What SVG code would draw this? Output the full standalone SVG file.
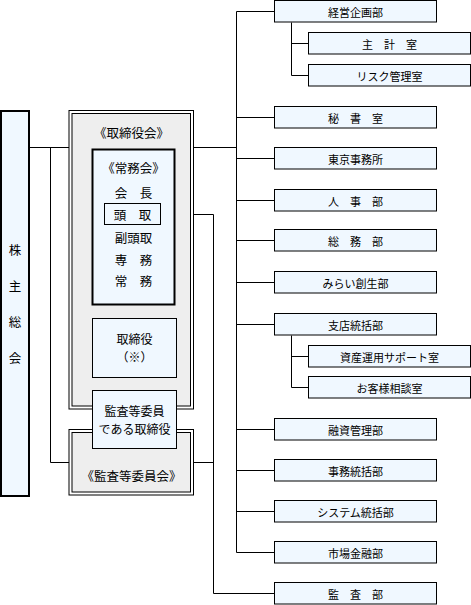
<svg xmlns="http://www.w3.org/2000/svg" width="471" height="605" viewBox="0 0 471 605">
<style>
text{font-family:"Noto Sans CJK JP","Noto Sans",sans-serif;fill:#000;text-anchor:middle;dominant-baseline:central}
.r{font-size:11px}
.l{font-size:12.5px}
.m{font-size:12px}
.box{fill:#f0f8ff;stroke:#000;stroke-width:1}
.thick{fill:#f0f8ff;stroke:#000;stroke-width:2}
.gray{fill:#eeeeee;stroke:#000;stroke-width:1}
.dbl{fill:#fff;stroke:#000;stroke-width:1}
.c{fill:none;stroke:#000;stroke-width:1}
</style>
<rect x="0" y="0" width="471" height="605" fill="#fff"/>
<g id="connectors" class="c">
<path d="M30 147.5H69"/>
<path d="M50.5 147.5V462.5H69"/>
<path d="M193.5 147.5H236.5"/>
<path d="M236.5 11.5V552.5"/>
<path d="M236.5 11.5H274.5M236.5 117.5H274.5M236.5 158.5H274.5M236.5 200.5H274.5M236.5 240.5H274.5M236.5 282.5H274.5M236.5 324.5H274.5M236.5 429.5H274.5M236.5 470.5H274.5M236.5 511.5H274.5M236.5 552.5H274.5"/>
<path d="M291.5 22.5V75.5M291.5 43.5H308.5M291.5 75.5H308.5"/>
<path d="M291.5 335.5V387.5M291.5 356.5H308.5M291.5 387.5H308.5"/>
<path d="M160.5 214.5H213.5V593.5H274.5"/>
<path d="M193.5 462.5H213.5"/>
<path d="M134.5 305V318.5"/>
</g>
<g id="kabunushi">
<rect class="thick" x="1" y="111" width="28" height="385"/>
<text class="l" x="15" y="249">株</text>
<text class="l" x="15" y="285">主</text>
<text class="l" x="15" y="321.5">総</text>
<text class="l" x="15" y="357.5">会</text>
</g>
<g id="torishimariyakukai">
<rect class="dbl" x="69" y="110.5" width="124.5" height="298.5"/>
<rect class="gray" x="72" y="113.5" width="118.5" height="292.5"/>
<text class="l" x="131.5" y="132">《取締役会》</text>
</g>
<g id="jomukai">
<rect class="thick" x="92.5" y="149.5" width="82" height="155"/>
<text class="l" x="133.5" y="167">《常務会》</text>
<text class="l" x="133.5" y="192">会　長</text>
<text class="l" x="133.5" y="237">副頭取</text>
<text class="l" x="133.5" y="259">専　務</text>
<text class="l" x="133.5" y="280">常　務</text>
</g>
<g id="todori">
<rect class="box" x="104.5" y="203.5" width="56" height="21"/>
<text class="l" x="132.5" y="214">頭　取</text>
</g>
<g id="torishimariyaku">
<rect class="box" x="92.5" y="318.5" width="84" height="59"/>
<text class="m" x="134.5" y="338">取締役</text>
<text class="m" x="134.5" y="356">（※）</text>
</g>
<g id="kansatoiinkai">
<rect class="dbl" x="69" y="429.5" width="124.5" height="65.5"/>
<rect class="gray" x="72" y="432.5" width="118.5" height="59.5"/>
<text class="l" x="131.5" y="475">《監査等委員会》</text>
</g>
<g id="kansatoiin">
<rect class="box" x="92.5" y="390.5" width="84" height="58"/>
<text class="m" x="134.5" y="410">監査等委員</text>
<text class="m" x="134.5" y="428">である取締役</text>
</g>
<g id="keiei"><rect class="box" x="274.5" y="0.5" width="162" height="21.5"/><text class="r" x="355.5" y="11.5">経営企画部</text></g>
<g id="shukei"><rect class="box" x="308.5" y="32.5" width="162" height="21.5"/><text class="r" x="389.5" y="43.5">主　計　室</text></g>
<g id="risk"><rect class="box" x="308.5" y="64.5" width="162" height="21.5"/><text class="r" x="389.5" y="75.5">リスク管理室</text></g>
<g id="hisho"><rect class="box" x="274.5" y="106.5" width="162" height="21.5"/><text class="r" x="355.5" y="117.5">秘　書　室</text></g>
<g id="tokyo"><rect class="box" x="274.5" y="147.5" width="162" height="21.5"/><text class="r" x="355.5" y="158.5">東京事務所</text></g>
<g id="jinji"><rect class="box" x="274.5" y="189.5" width="162" height="21.5"/><text class="r" x="355.5" y="200.5">人　事　部</text></g>
<g id="somu"><rect class="box" x="274.5" y="229.5" width="162" height="21.5"/><text class="r" x="355.5" y="240.5">総　務　部</text></g>
<g id="mirai"><rect class="box" x="274.5" y="271.5" width="162" height="21.5"/><text class="r" x="355.5" y="282.5">みらい創生部</text></g>
<g id="shiten"><rect class="box" x="274.5" y="313.5" width="162" height="21.5"/><text class="r" x="355.5" y="324.5">支店統括部</text></g>
<g id="shisan"><rect class="box" x="308.5" y="345.5" width="162" height="21.5"/><text class="r" x="389.5" y="356.5">資産運用サポート室</text></g>
<g id="okyaku"><rect class="box" x="308.5" y="376.5" width="162" height="21.5"/><text class="r" x="389.5" y="387.5">お客様相談室</text></g>
<g id="yushi"><rect class="box" x="274.5" y="418.5" width="162" height="21.5"/><text class="r" x="355.5" y="429.5">融資管理部</text></g>
<g id="jimu"><rect class="box" x="274.5" y="459.5" width="162" height="21.5"/><text class="r" x="355.5" y="470.5">事務統括部</text></g>
<g id="system"><rect class="box" x="274.5" y="500.5" width="162" height="21.5"/><text class="r" x="355.5" y="511.5">システム統括部</text></g>
<g id="shijo"><rect class="box" x="274.5" y="541.5" width="162" height="21.5"/><text class="r" x="355.5" y="552.5">市場金融部</text></g>
<g id="kansa"><rect class="box" x="274.5" y="582.5" width="162" height="21.5"/><text class="r" x="355.5" y="593.5">監　査　部</text></g>
</svg>
